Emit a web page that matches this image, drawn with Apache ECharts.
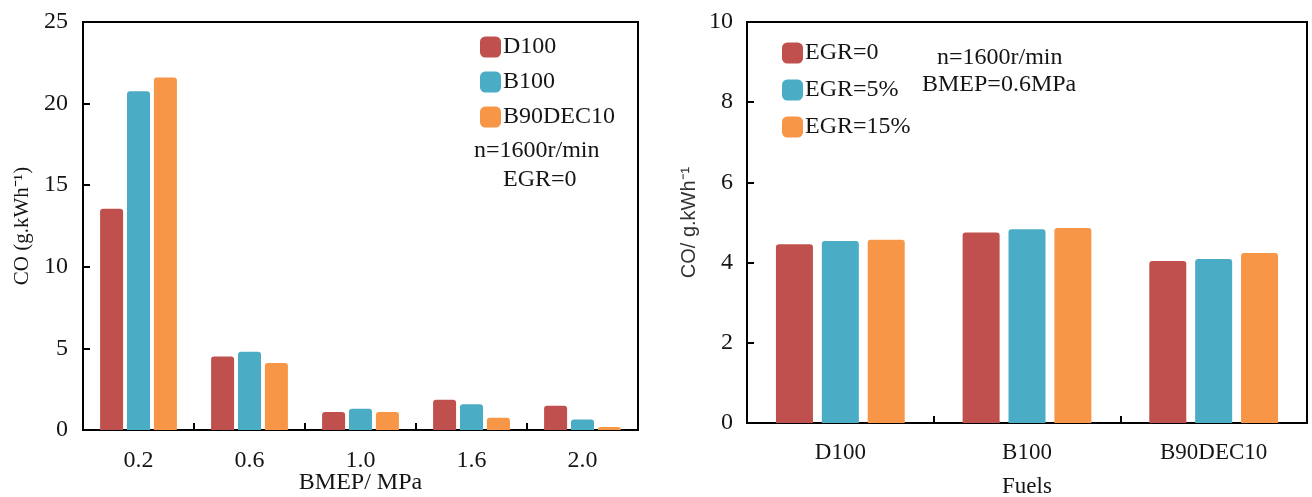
<!DOCTYPE html>
<html>
<head>
<meta charset="utf-8">
<script src="https://cdn.jsdelivr.net/npm/echarts@6/dist/echarts.min.js"></script>
<style>
html,body{margin:0;padding:0;background:#fff;}
#chart{width:1312px;height:497px;}
</style>
</head>
<body>
<div id="chart"></div>
<script>
// ---- Left panel data ----
var bmepCategories = ['0.2', '0.6', '1.0', '1.6', '2.0'];
var coD100 = [13.55, 4.5, 1.1, 1.85, 1.48];
var coB100 = [20.75, 4.8, 1.3, 1.58, 0.65];
var coB90DEC10 = [21.6, 4.1, 1.1, 0.75, 0.18];
var leftSeriesNames = ['D100', 'B100', 'B90DEC10'];

// ---- Right panel data ----
var fuelCategories = ['D100', 'B100', 'B90DEC10'];
var coEGR0 = [4.46, 4.75, 4.04];
var coEGR5 = [4.54, 4.83, 4.09];
var coEGR15 = [4.57, 4.86, 4.24];
var rightSeriesNames = ['EGR=0', 'EGR=5%', 'EGR=15%'];

var colors = ['#C0504D', '#4BACC6', '#F79646'];
var serif = '"Liberation Serif", "Times New Roman", serif';
var sans = '"Liberation Sans", Arial, sans-serif';
var txt = '#151515';

var chart = echarts.init(document.getElementById('chart'), null, {renderer: 'canvas'});

function barSeries(name, data, idx, color, width, gap) {
  return {
    name: name, type: 'bar', data: data,
    xAxisIndex: idx, yAxisIndex: idx,
    barWidth: width, barGap: gap,
    itemStyle: {color: color, borderRadius: [3, 3, 0, 0]},
    emphasis: {disabled: true}
  };
}

var lineStyle = {color: '#000', width: 2};

var option = {
  animation: false,
  backgroundColor: '#fff',
  grid: [
    {left: 83, top: 22, width: 555, height: 408, show: true, borderColor: '#000', borderWidth: 2, backgroundColor: 'transparent', containLabel: false, outerBoundsMode: 'none'},
    {left: 747, top: 22, width: 560, height: 401, show: true, borderColor: '#000', borderWidth: 2, backgroundColor: 'transparent', containLabel: false, outerBoundsMode: 'none'}
  ],
  legend: [
    {
      data: leftSeriesNames, orient: 'vertical', left: 480, top: 35, padding: 0,
      itemWidth: 21, itemHeight: 21, itemGap: 11,
      textStyle: {fontFamily: serif, fontSize: 24, color: txt, padding: [0, 0, 0, -3]},
      icon: 'roundRect', selectedMode: false
    },
    {
      data: rightSeriesNames, orient: 'vertical', left: 782, top: 41, padding: 0,
      itemWidth: 21, itemHeight: 21, itemGap: 13,
      textStyle: {fontFamily: serif, fontSize: 24, color: txt, padding: [0, 0, 0, -3]},
      icon: 'roundRect', selectedMode: false
    }
  ],
  xAxis: [
    {
      type: 'category', gridIndex: 0, data: bmepCategories,
      name: 'BMEP/ MPa', nameLocation: 'middle', nameGap: 41, nameMoveOverlap: false,
      nameTextStyle: {fontFamily: serif, fontSize: 24, color: txt},
      axisLine: {show: true, lineStyle: lineStyle},
      axisTick: {show: true, inside: true, length: 7, lineStyle: lineStyle},
      axisLabel: {fontFamily: serif, fontSize: 24, color: txt, margin: 19}
    },
    {
      type: 'category', gridIndex: 1, data: fuelCategories,
      name: 'Fuels', nameLocation: 'middle', nameGap: 52,
      nameTextStyle: {fontFamily: serif, fontSize: 23, color: txt},
      axisLine: {show: true, lineStyle: lineStyle},
      axisTick: {show: true, inside: true, length: 7, lineStyle: lineStyle},
      axisLabel: {fontFamily: serif, fontSize: 23, color: txt, margin: 18}
    }
  ],
  yAxis: [
    {
      type: 'value', gridIndex: 0, min: 0, max: 25, interval: 5,
      name: 'CO (g.kWh\u207B\u00B9)', nameLocation: 'middle', nameGap: 50,
      nameTextStyle: {fontFamily: serif, fontSize: 21, color: txt},
      axisLine: {show: true, lineStyle: lineStyle},
      axisTick: {show: true, inside: true, length: 7, lineStyle: lineStyle},
      axisLabel: {fontFamily: serif, fontSize: 24, color: txt, margin: 15},
      splitLine: {show: false}
    },
    {
      type: 'value', gridIndex: 1, min: 0, max: 10, interval: 2,
      name: 'CO/ g.kWh\u207B\u00B9', nameLocation: 'middle', nameGap: 48,
      nameTextStyle: {fontFamily: sans, fontSize: 20, color: '#333'},
      axisLine: {show: true, lineStyle: lineStyle},
      axisTick: {show: true, inside: true, length: 7, lineStyle: lineStyle},
      axisLabel: {fontFamily: serif, fontSize: 24, color: txt, margin: 14},
      splitLine: {show: false}
    }
  ],
  graphic: [
    {type: 'text', left: 474, top: 139, style: {text: 'n=1600r/min', font: '24px ' + serif, fill: txt}},
    {type: 'text', left: 503, top: 168, style: {text: 'EGR=0', font: '24px ' + serif, fill: txt}},
    {type: 'text', left: 937, top: 46, style: {text: 'n=1600r/min', font: '24px ' + serif, fill: txt}},
    {type: 'text', left: 922, top: 73, style: {text: 'BMEP=0.6MPa', font: '24px ' + serif, fill: txt}}
  ],
  series: [
    barSeries(leftSeriesNames[0], coD100, 0, colors[0], 23, '17%'),
    barSeries(leftSeriesNames[1], coB100, 0, colors[1], 23, '17%'),
    barSeries(leftSeriesNames[2], coB90DEC10, 0, colors[2], 23, '17%'),
    barSeries(rightSeriesNames[0], coEGR0, 1, colors[0], 37, '24%'),
    barSeries(rightSeriesNames[1], coEGR5, 1, colors[1], 37, '24%'),
    barSeries(rightSeriesNames[2], coEGR15, 1, colors[2], 37, '24%')
  ]
};
chart.setOption(option);
</script>
</body>
</html>
